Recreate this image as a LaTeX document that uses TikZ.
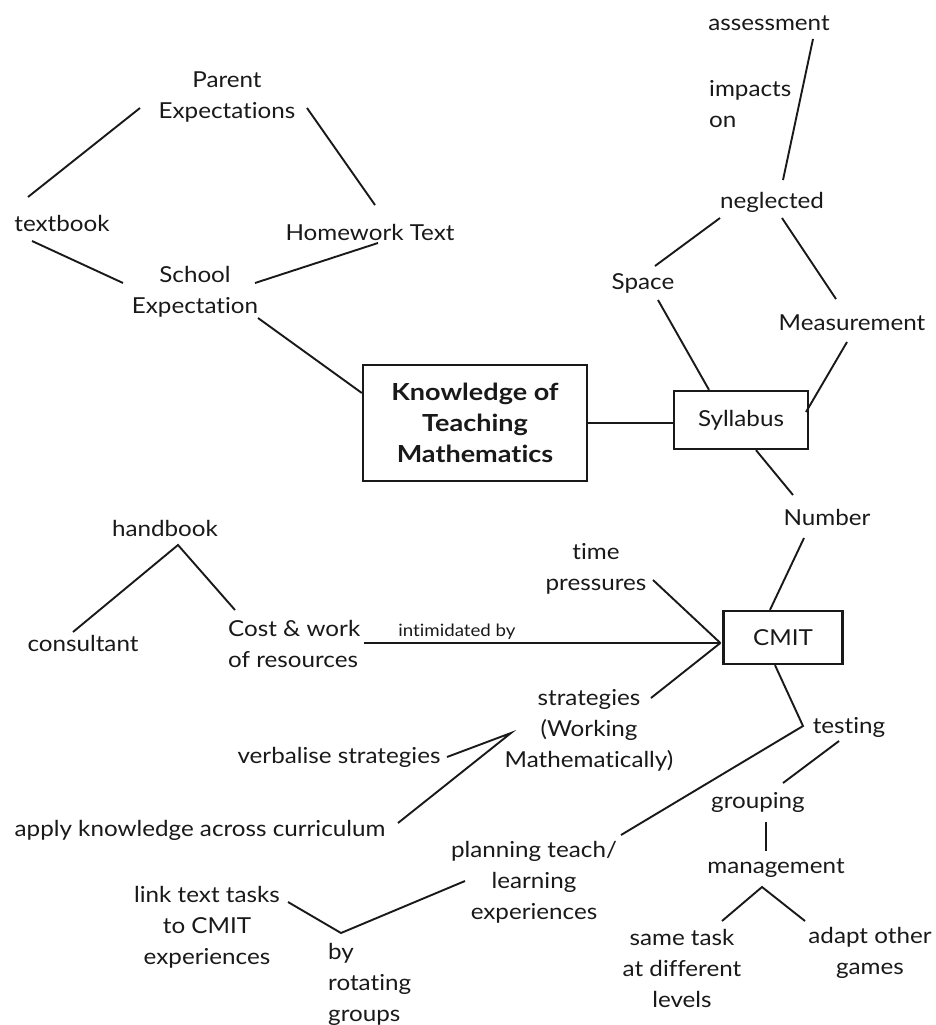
\documentclass[tikz,border=0pt]{standalone}
\usepackage{fontspec}
\setmainfont{Lato}[FakeStretch=1.1, Ligatures={NoCommon,NoContextual}]
\newfontfamily\ktmfont{Lato}[FakeStretch=1.15, Ligatures={NoCommon,NoContextual}]
\usetikzlibrary{calc}
\begin{document}
\begin{tikzpicture}[x=1pt,y=-1pt,
  every node/.style={font=\fontsize{22}{31}\selectfont, inner sep=0pt, text=black!90},
  txt/.style={align=center},
  box/.style={draw=black!90, line width=2.3pt, align=center},
  conn/.style={line width=1.9pt, draw=black!90},
  small/.style={font=\fontsize{17}{20}\selectfont}]
\useasboundingbox (0,0) rectangle (935,1025);
% nodes
\node[txt] (parent) at (227,97) {Parent\\Expectations};
\node (textbook) at (62,223) {textbook};
\node (homework) at (370,232) {Homework Text};
\node[txt] (school) at (195,292) {School\\Expectation};
\node[box, minimum width=224pt, minimum height=116pt, font=\ktmfont\fontsize{23.5}{31}\selectfont\bfseries] (ktm) at (475,423) {Knowledge of\\Teaching\\Mathematics};
\node[box, minimum width=134pt, minimum height=58pt] (syll) at (741,420) {Syllabus};
\node (assess) at (769,23) {assessment};
\node[align=left, anchor=west] (impacts) at (709,104) {impacts\\on};
\node (negl) at (772,202) {neglected};
\node (space) at (643,283) {Space};
\node (meas) at (852,323) {Measurement};
\node (number) at (827,517) {Number};
\node[box, minimum width=119pt, minimum height=53pt] (cmit) at (783,637.5) {CMIT};
\node[txt] (time) at (596,569) {time\\pressures};
\node (handbook) at (165,528) {handbook};
\node (consult) at (83,643) {consultant};
\node[align=left, anchor=west] (cost) at (228,644) {Cost \& work\\of resources};
\node[txt] (strat) at (589,730) {strategies\\(Working\\Mathematically)};
\node (verb) at (339,757) {verbalise strategies};
\node (apply) at (200,830) {apply knowledge across curriculum};
\node (testing) at (849,727) {testing};
\node (grouping) at (758,802) {grouping};
\node (manage) at (776,868) {management};
\node[txt] (same) at (682,968) {same task\\at different\\levels};
\node[txt] (adapt) at (870,953) {adapt other\\games};
\node[txt] (plan) at (534,882) {planning teach/\\learning\\experiences};
\node[txt] (link) at (207,927) {link text tasks\\to CMIT\\experiences};
\node[align=left, anchor=west] (by) at (328,984) {by\\rotating\\groups};
% junctions
\coordinate (meet) at ($(cmit.west)+(-2,5.5)$);
\coordinate (apex1) at ($(strat)+(-78,3)$);
\coordinate (apex2) at ($(handbook)+(13,17)$);
\coordinate (bend) at ($(testing)+(-46,-1)$);
\coordinate (apex3) at ($(manage)+(-14,19)$);
\coordinate (vee) at ($(by.west)+(13,-51)$);
% connectors
\draw[conn] ($(textbook)+(-34,-26)$) -- ($(parent)+(-87,11)$);
\draw[conn] ($(parent)+(80,11)$) -- ($(homework)+(5,-27)$);
\draw[conn] ($(textbook)+(-30,18)$) -- ($(school)+(-72,-9)$);
\draw[conn] ($(homework)+(8,11)$) -- ($(school)+(60,-9)$);
\draw[conn] ($(school)+(63,26)$) -- ($(ktm.west)+(0,-30)$);
\draw[conn] (ktm.east) -- (ktm.east -| syll.west);
\draw[conn] ($(syll.north)+(-32,0)$) -- ($(space)+(15,17)$);
\draw[conn] ($(syll)+(65,-8)$) -- ($(meas)+(-5,19)$);
\draw[conn] ($(syll.south)+(15,0)$) -- ($(number)+(-34,-22)$);
\draw[conn] ($(space)+(12,-17)$) -- ($(negl)+(-52,16)$);
\draw[conn] ($(negl)+(10,16)$) -- ($(meas)+(-16,-24)$);
\draw[conn] ($(negl)+(11,-22)$) -- ($(assess)+(44,16)$);
\draw[conn] ($(number)+(-23,21)$) -- ($(cmit.north)+(-13,0)$);
\draw[conn] ($(time)+(57,11)$) -- (meet);
\draw[conn] ($(cost.east)+(4,-1)$) -- node[small, pos=0.26, above=3pt] (intim) {intimidated by} (meet);
\draw[conn] ($(strat)+(62,-32)$) -- (meet);
\draw[conn] ($(verb)+(108,0)$) -- (apex1) -- ($(apply)+(198,-7)$);
\draw[conn] ($(consult)+(-10,-11)$) -- (apex2) -- ($(cost.west)+(7,-34)$);
\draw[conn] ($(cmit.south)+(-8,0)$) -- (bend) -- ($(plan)+(87,-47)$);
\draw[conn] ($(testing)+(-10,14)$) -- ($(grouping)+(25,-19)$);
\draw[conn] ($(grouping)+(8,20)$) -- ($(manage)+(-10,-17)$);
\draw[conn] ($(same)+(40,-47)$) -- (apex3) -- ($(adapt)+(-65,-32)$);
\draw[conn] ($(link)+(81,-25)$) -- (vee) -- ($(plan)+(-69,-1)$);
\end{tikzpicture}
\end{document}
